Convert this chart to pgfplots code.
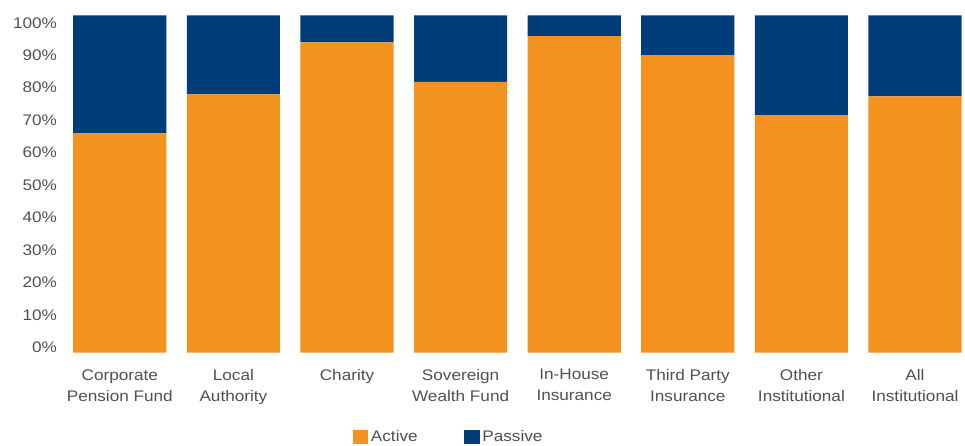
\documentclass[border=0pt]{standalone}
\usepackage{fontspec}
\setmainfont{Liberation Sans}[FakeStretch=1.12]
\usepackage{pgfplots}
\pgfplotsset{compat=1.18}
\definecolor{actor}{RGB}{243,146,30}
\definecolor{pasnv}{RGB}{0,61,121}
\definecolor{labgray}{RGB}{80,80,80}
\begin{document}
\begin{tikzpicture}
\begin{axis}[
  scale only axis,
  width=676.5pt, height=253pt,
  ybar stacked,
  bar width=0.82,
  xmin=-0.5, xmax=7.44,
  ymin=0, ymax=100,
  axis line style={draw=none},
  major tick length=0pt,
  tick style={draw=none},
  ytick={0,10,...,100},
  yticklabel={\pgfmathsetlengthmacro\sh{(5-0.124*\tick)*0.75pt}\raisebox{\sh}[\height][\depth]{\pgfmathprintnumber{\tick}\%}},
  xtick={0,...,7},
  xticklabels={{Corporate\\Pension Fund},{Local\\Authority},{Charity},{Sovereign\\Wealth Fund},{In-House\\Insurance},{Third Party\\Insurance},{Other\\Institutional},{All\\Institutional}},
  x tick label style={align=center, font=\fontsize{11.5}{15.75}\selectfont, text=labgray, yshift=-9pt},
  y tick label style={font=\fontsize{11.5}{13}\selectfont, text=labgray, xshift=-1pt},
  /pgf/number format/assume math mode=true,
  legend columns=2,
  legend style={draw=none, at={(0.428,-0.25)}, anchor=center, font=\fontsize{11.5}{13}\selectfont, text=labgray,
    /tikz/every even column/.append style={column sep=33pt}},
  legend image code/.code={\fill[#1] (0pt,-5.6pt) rectangle (11.5pt,5.6pt);},
]
\addplot[fill=actor, draw=none] coordinates {(0,65) (1,76.6) (2,92) (3,80.3) (4,93.8) (5,88.2) (6,70.4) (7,76)};
\addplot[fill=pasnv, draw=none] coordinates {(0,35) (1,23.4) (2,8) (3,19.7) (4,6.2) (5,11.8) (6,29.6) (7,24)};
\legend{Active,Passive}
\end{axis}
\pgfresetboundingbox
\useasboundingbox (-47.25pt,-70pt) rectangle (676.5pt,264.5pt);
\end{tikzpicture}
\end{document}
